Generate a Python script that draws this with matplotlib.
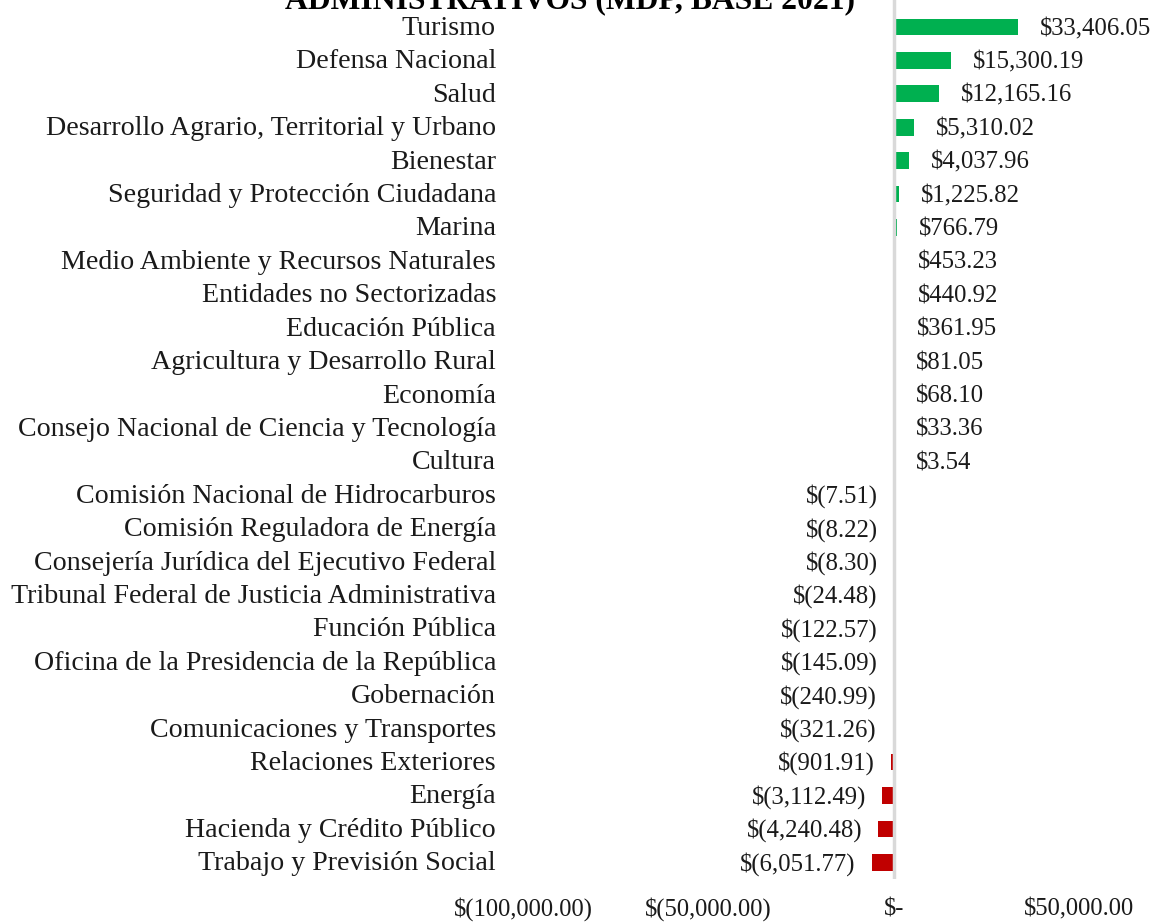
import matplotlib
matplotlib.use("Agg")
import matplotlib.pyplot as plt
import numpy as np

categories = [
    "Turismo", "Defensa Nacional", "Salud", "Desarrollo Agrario, Territorial y Urbano",
    "Bienestar", "Seguridad y Protección Ciudadana", "Marina",
    "Medio Ambiente y Recursos Naturales", "Entidades no Sectorizadas",
    "Educación Pública", "Agricultura y Desarrollo Rural", "Economía",
    "Consejo Nacional de Ciencia y Tecnología", "Cultura",
    "Comisión Nacional de Hidrocarburos", "Comisión Reguladora de Energía",
    "Consejería Jurídica del Ejecutivo Federal",
    "Tribunal Federal de Justicia Administrativa", "Función Pública",
    "Oficina de la Presidencia de la República", "Gobernación",
    "Comunicaciones y Transportes", "Relaciones Exteriores", "Energía",
    "Hacienda y Crédito Público", "Trabajo y Previsión Social",
]
values = [
    33406.05, 15300.19, 12165.16, 5310.02, 4037.96, 1225.82, 766.79, 453.23,
    440.92, 361.95, 81.05, 68.10, 33.36, 3.54, -7.51, -8.22, -8.30, -24.48,
    -122.57, -145.09, -240.99, -321.26, -901.91, -3112.49, -4240.48, -6051.77,
]
xticks = [-100000, -50000, 0, 50000]
xtick_labels = ["$(100,000.00)", "$(50,000.00)", "$-", "$50,000.00"]
title = "ADMINISTRATIVOS (MDP, BASE 2021)"

FONT = "Liberation Serif"
W, H = 1154, 923
fig = plt.figure(figsize=(W / 100, H / 100), dpi=100)

# axes geometry in pixels
x0_px, x_right_px = 523, 1154
zero_px = 894
px_per_unit = 3.71 / 1000.0
xmin = -100000
xmax = (x_right_px - zero_px) / px_per_unit
y_top_px, y_bot_px = 0, 879
ax = fig.add_axes([x0_px / W, 1 - y_bot_px / H, (x_right_px - x0_px) / W, (y_bot_px - y_top_px) / H])

n = len(categories)
ypos = np.arange(n)[::-1]
row_px = 33.4
ax.set_ylim(-0.5, n - 1 + 27 / row_px)
ax.set_xlim(xmin, xmax)

colors = ["#00B050" if v >= 0 else "#C00000" for v in values]
ax.barh(ypos, values, height=0.5, color=colors, zorder=2)
ax.axvline(0, color="#D9D9D9", lw=2.5, zorder=3)

TXT = "#1a1a1a"
for y, v, c in zip(ypos, values, categories):
    if v >= 0:
        txt = f"${v:,.2f}"
        ax.annotate(txt, (v, y), xytext=(22, -8), textcoords="offset pixels",
                    ha="left", va="baseline", fontsize=17.8, family=FONT, color=TXT)
    else:
        txt = f"$({-v:,.2f})"
        ax.annotate(txt, (v, y), xytext=(-16, -8), textcoords="offset pixels",
                    ha="right", va="baseline", fontsize=17.8, family=FONT, color=TXT)
    ax.annotate(c, (0, y), xycoords=("figure fraction", "data"),
                xytext=(496, -8), textcoords="offset pixels",
                ha="right", va="baseline", fontsize=20.2, family=FONT, color=TXT,
                annotation_clip=False)

ax.set_xticks(xticks)
ax.set_xticklabels(xtick_labels, family=FONT, fontsize=17.7, color=TXT, va="baseline")
ax.tick_params(axis="x", length=0, pad=26)
ax.set_yticks([])
for s in ax.spines.values():
    s.set_visible(False)

fig.text(570 / W, 1 - 8 / H, title, ha="center", va="baseline",
         fontsize=22.8, fontweight="bold", family=FONT, color="#000000")

fig.savefig("out.png", dpi=100)
